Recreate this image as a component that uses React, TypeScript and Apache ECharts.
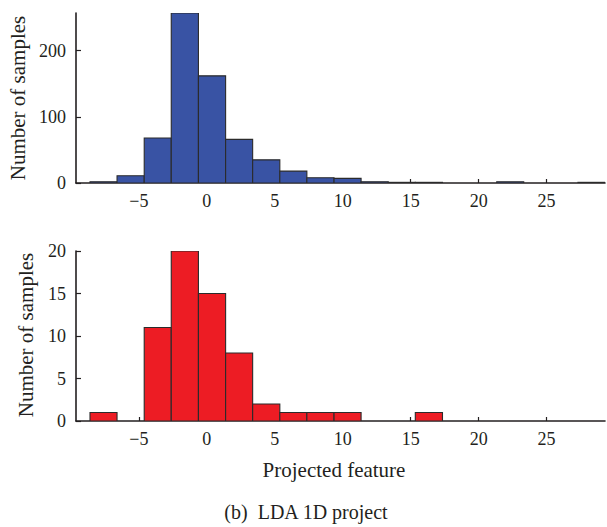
import React, { useEffect, useRef } from "react";
import * as echarts from "echarts";

// Histogram bin edges along the projected feature axis
const binEdges = [
  -8.6, -6.61, -4.61, -2.62, -0.62, 1.38, 3.37, 5.37, 7.36, 9.36, 11.35,
  13.35, 15.34, 17.34, 19.33, 21.33, 23.32, 25.32, 27.31, 29.31,
];

// Sample counts per bin (upper panel: all samples, lower panel: subset)
const countsTop = [2, 11, 68, 257, 162, 66, 35, 18, 8, 7, 2, 1, 1, 0, 0, 2, 0, 0, 1];
const countsBottom = [1, 0, 11, 20, 15, 8, 2, 1, 1, 1, 0, 0, 1, 0, 0, 0, 0, 0, 0];

const xTicks = [-5, 0, 5, 10, 15, 20, 25];
const yTicksTop = [0, 100, 200];
const yTicksBottom = [0, 5, 10, 15, 20];

const xLabel = "Projected feature";
const yLabel = "Number of samples";
const caption = "(b)  LDA 1D project";

const FONT = "'Liberation Serif', 'DejaVu Serif', serif";
const INK = "#231f20";

function toBins(counts: number[]) {
  return counts.map((c, i) => [binEdges[i], binEdges[i + 1], c]);
}

function histSeries(counts: number[], idx: number, color: string) {
  return {
    type: "custom",
    xAxisIndex: idx,
    yAxisIndex: idx,
    data: toBins(counts),
    encode: { x: [0, 1], y: 2 },
    clip: true,
    renderItem: (params: any, api: any) => {
      const v = api.value(2);
      if (!v) return null;
      const p0 = api.coord([api.value(0), 0]);
      const p1 = api.coord([api.value(1), v]);
      return {
        type: "rect",
        shape: { x: p0[0], y: p1[1], width: p1[0] - p0[0], height: p0[1] - p1[1] },
        style: { fill: color, stroke: "#2b2b2b", lineWidth: 1.1 },
      };
    },
  };
}

const fmt = (v: number) => (v < 0 ? "\u2212" + Math.abs(v) : String(v));

function xAxisOf(idx: number) {
  return {
    type: "value",
    gridIndex: idx,
    min: -9.63,
    max: 29.3,
    splitLine: { show: false },
    axisLine: { onZero: false, lineStyle: { color: INK, width: 1.6 } },
    axisTick: { inside: true, length: 4, customValues: xTicks, lineStyle: { color: INK, width: 1.2 } },
    axisLabel: { customValues: xTicks, formatter: fmt, color: INK, fontFamily: FONT, fontSize: 18, margin: 9 },
  };
}

function yAxisOf(idx: number, max: number, ticks: number[]) {
  return {
    type: "value",
    gridIndex: idx,
    min: 0,
    max,
    splitLine: { show: false },
    axisLine: { show: true, onZero: false, lineStyle: { color: INK, width: 1.6 } },
    axisTick: { show: true, inside: true, length: 5, customValues: ticks, lineStyle: { color: INK, width: 1.2 } },
    axisLabel: { customValues: ticks, color: INK, fontFamily: FONT, fontSize: 18, margin: 10 },
  };
}

export default function App() {
  const ref = useRef<HTMLDivElement>(null);

  useEffect(() => {
    document.body.style.margin = "0";
    if (!ref.current) return;
    const chart = echarts.init(ref.current, null, { renderer: "svg" });
    chart.setOption({
      animation: false,
      backgroundColor: "#ffffff",
      grid: [
        { left: 76, right: 2, top: 13, height: 170 },
        { left: 76, right: 2, top: 251, height: 170 },
      ],
      xAxis: [xAxisOf(0), xAxisOf(1)],
      yAxis: [yAxisOf(0, 257, yTicksTop), yAxisOf(1, 20, yTicksBottom)],
      series: [histSeries(countsTop, 0, "#3953a4"), histSeries(countsBottom, 1, "#ed1c24")],
      graphic: [
        {
          type: "text",
          x: 17.5,
          y: 98,
          rotation: Math.PI / 2,
          style: { text: yLabel, font: `21px ${FONT}`, fill: INK, textAlign: "center", textVerticalAlign: "middle" },
        },
        {
          type: "text",
          x: 25.5,
          y: 335,
          rotation: Math.PI / 2,
          style: { text: yLabel, font: `21px ${FONT}`, fill: INK, textAlign: "center", textVerticalAlign: "middle" },
        },
        {
          type: "text",
          x: 334,
          y: 470,
          style: { text: xLabel, font: `21px ${FONT}`, fill: INK, textAlign: "center", textVerticalAlign: "middle" },
        },
        {
          type: "text",
          x: 306,
          y: 512,
          style: { text: caption, font: `20px ${FONT}`, fill: INK, textAlign: "center", textVerticalAlign: "middle" },
        },
      ],
    });
    return () => chart.dispose();
  }, []);

  return <div ref={ref} style={{ width: 607, height: 527 }} />;
}
